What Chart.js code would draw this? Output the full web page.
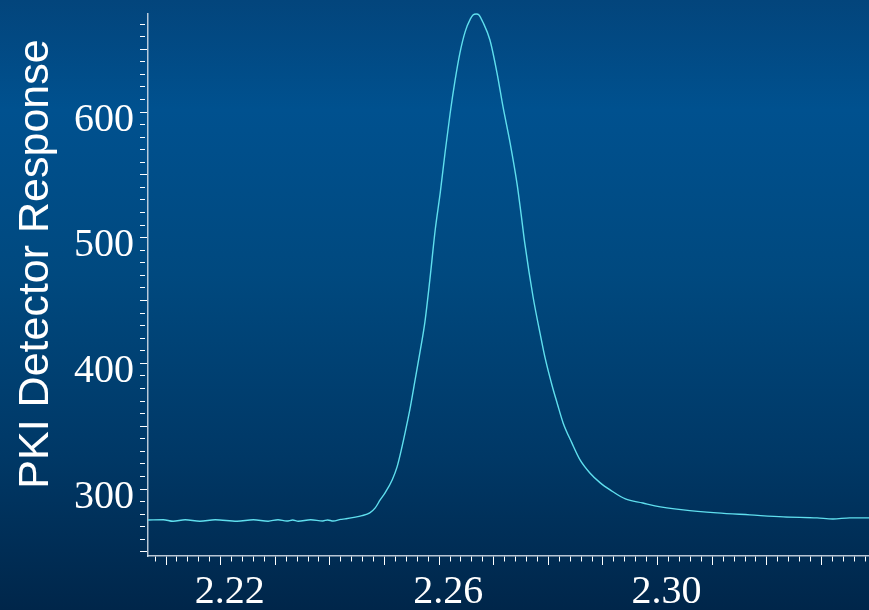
<!DOCTYPE html>
<html>
<head>
<meta charset="utf-8">
<script src="https://cdn.jsdelivr.net/npm/chart.js@4/dist/chart.umd.min.js"></script>
<style>
  html, body { margin: 0; padding: 0; }
  #wrap {
    width: 869px; height: 610px; position: relative;
    background: linear-gradient(to bottom, #03457c 0%, #00518f 18%, #00497f 45%, #003866 75%, #00264a 100%);
  }
</style>
</head>
<body>
<div id="wrap"><canvas id="chart"></canvas></div>
<script>
// ── Data ──────────────────────────────────────────────────────────────────────
const xValues = [
  2.2067, 2.2095, 2.2113, 2.2135, 2.2162, 2.2190, 2.2230, 2.2260, 2.2287, 2.2305,
  2.2321, 2.2332, 2.2342, 2.2365, 2.2387, 2.2396, 2.2406, 2.2420, 2.2428, 2.2459,
  2.2473, 2.2483, 2.2492, 2.2501, 2.2514, 2.2523, 2.2532, 2.2538, 2.2543, 2.2547,
  2.2556, 2.2565, 2.2574, 2.2583, 2.2593, 2.2602, 2.2611, 2.2620, 2.2629, 2.2638,
  2.2648, 2.2657, 2.2662, 2.2668, 2.2673, 2.2680, 2.2693, 2.2706, 2.2717, 2.2730,
  2.2743, 2.2750, 2.2757, 2.2772, 2.2785, 2.2794, 2.2807, 2.2816, 2.2827, 2.2843,
  2.2858, 2.2876, 2.2895, 2.2913, 2.2941, 2.2973, 2.2995, 2.3047, 2.3109, 2.3169,
  2.3230, 2.3292, 2.3321, 2.3352, 2.3387,
];
const yValues = [
  275.4, 275.6, 274.3, 275.5, 274.4, 275.6, 274.3, 275.5, 274.4, 275.6,
  274.5, 275.3, 274.4, 275.5, 274.6, 275.4, 274.5, 275.8, 276.2, 278.8,
  281.0, 285.0, 291.3, 296.9, 307.2, 317.6, 333.5, 345.4, 355.8, 364.5,
  386.8, 409.1, 433.0, 466.4, 506.9, 535.6, 568.2, 598.4, 624.7, 646.9,
  664.4, 673.9, 677.2, 678.0, 677.2, 671.6, 657.3, 631.0, 604.0, 575.3,
  541.9, 518.9, 495.0, 452.8, 423.4, 404.3, 382.0, 368.5, 352.6, 336.7,
  323.2, 312.8, 304.9, 299.3, 292.1, 288.9, 286.6, 283.4, 281.0, 279.4,
  277.8, 277.0, 276.2, 277.0, 277.0,
];

// ── Axes ──────────────────────────────────────────────────────────────────────
const X_MIN = 2.2067, X_MAX = 2.3387;
const X_MINOR = 0.002, X_MAJOR = 0.01;
const X_LABELS = [2.22, 2.26, 2.30];

const Y_MIN = 246.7, Y_MAX = 678.0;
const Y_MINOR = 10, Y_MAJOR = 50;
const Y_LABELS = [300, 400, 500, 600];

const Y_TITLE = 'PKI Detector Response';

const round = (v) => Math.round(v * 1e6) / 1e6;

function stepTicks(min, max, step) {
  const out = [];
  for (let k = Math.ceil(min / step - 1e-9); k * step <= max + 1e-9; k++) out.push({ value: round(k * step) });
  return out;
}
const isMultiple = (v, step) => Math.abs(v / step - Math.round(v / step)) < 1e-6;
const hasLabel = (list, v) => list.some(l => Math.abs(l - v) < 1e-6);

const AXIS_COLOR = 'rgba(215,225,235,0.85)';
const LABEL_FONT = { family: '"Liberation Serif", "Times New Roman", serif', size: 40 };

// ── Y title (placed off-centre like the original) ────────────────────────────
const yTitlePlugin = {
  id: 'yTitle',
  afterDraw(chart) {
    const ctx = chart.ctx;
    ctx.save();
    ctx.translate(48, 264);
    ctx.rotate(-Math.PI / 2);
    ctx.fillStyle = '#ffffff';
    ctx.font = '43px "Liberation Sans", Arial, sans-serif';
    ctx.textAlign = 'center';
    ctx.textBaseline = 'alphabetic';
    ctx.fillText(Y_TITLE, 0, 0);
    ctx.restore();
  },
};

// ── Chart ─────────────────────────────────────────────────────────────────────
new Chart(document.getElementById('chart'), {
  type: 'line',
  data: {
    datasets: [{
      data: xValues.map((x, i) => ({ x, y: yValues[i] })),
      borderColor: '#5fdfee',
      borderWidth: 1.4,
      pointRadius: 0,
      cubicInterpolationMode: 'monotone',
      fill: false,
      clip: 4,
    }],
  },
  options: {
    responsive: true,
    maintainAspectRatio: false,
    animation: false,
    layout: { padding: { top: 14, right: 0, left: 0, bottom: 0 } },
    plugins: { legend: { display: false }, tooltip: { enabled: false } },
    scales: {
      x: {
        type: 'linear',
        min: X_MIN, max: X_MAX,
        afterBuildTicks: (s) => { s.ticks = stepTicks(X_MIN, X_MAX, X_MINOR); },
        afterFit: (s) => { s.height = 54; s.paddingLeft = 0; s.paddingRight = 0; },
        border: { display: true, color: AXIS_COLOR, width: 1.5 },
        grid: {
          drawOnChartArea: false,
          tickLength: 9,
          tickColor: '#ffffff',
          tickWidth: 1,
          tickBorderDash: (c) => isMultiple(c.tick.value, X_MAJOR) ? [] : [5, 20],
        },
        ticks: {
          autoSkip: false,
          maxRotation: 0,
          padding: 3,
          labelOffset: 9,
          color: '#ffffff',
          font: LABEL_FONT,
          callback: (v) => hasLabel(X_LABELS, v) ? v.toFixed(2) : '',
        },
      },
      y: {
        type: 'linear',
        min: Y_MIN, max: Y_MAX,
        afterBuildTicks: (s) => { s.ticks = stepTicks(Y_MIN, Y_MAX, Y_MINOR); },
        afterFit: (s) => { s.width = 148; s.paddingTop = 0; s.paddingBottom = 0; },
        border: { display: true, color: AXIS_COLOR, width: 1.5 },
        grid: {
          drawOnChartArea: false,
          tickLength: 8,
          tickColor: '#ffffff',
          tickWidth: 1,
          tickBorderDash: (c) => isMultiple(c.tick.value, Y_MAJOR) ? [] : [5, 20],
        },
        ticks: {
          autoSkip: false,
          padding: 6,
          labelOffset: 8,
          color: '#ffffff',
          font: LABEL_FONT,
          callback: (v) => hasLabel(Y_LABELS, v) ? String(Math.round(v)) : '',
        },
      },
    },
  },
  plugins: [yTitlePlugin],
});
</script>
</body>
</html>
